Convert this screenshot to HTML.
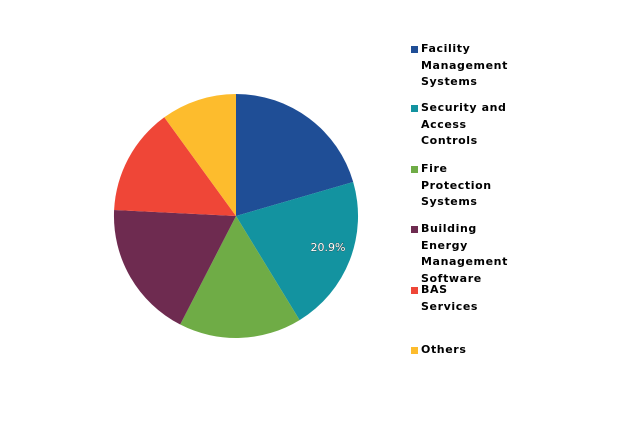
<!DOCTYPE html>
<html><head><style>
body{margin:0;background:#fff;width:622px;height:439px;overflow:hidden;position:relative;font-family:"DejaVu Sans","Liberation Sans",sans-serif}
.l{position:absolute;left:421px;font-size:11px;font-weight:bold;line-height:16.5px;color:#000;letter-spacing:0.6px}
.s{position:absolute;left:411px;width:7px;height:7px}
</style></head><body>
<svg width="622" height="439" style="position:absolute;left:0;top:0">
<g>
<path d="M236,216 L236,94 A122,122 0 0 1 353.2,182 Z" fill="#1f4e96"/>
<path d="M236,216 L353.2,182 A122,122 0 0 1 299.6,320.1 Z" fill="#1393a0"/>
<path d="M236,216 L299.6,320.1 A122,122 0 0 1 180.2,324.5 Z" fill="#6fac46"/>
<path d="M236,216 L180.2,324.5 A122,122 0 0 1 114.1,210 Z" fill="#6e2b50"/>
<path d="M236,216 L114.1,210 A122,122 0 0 1 164.3,117.3 Z" fill="#ef4637"/>
<path d="M236,216 L164.3,117.3 A122,122 0 0 1 236,94 Z" fill="#fdbc2d"/>
</g>
<text x="328" y="251" text-anchor="middle" font-family="DejaVu Sans, sans-serif" font-size="11" fill="#fff" stroke="#333" stroke-width="0.6" paint-order="stroke">20.9%</text>
</svg>
<div class="s" style="top:46px;background:#1f4e96"></div>
<div class="l" style="top:41px">Facility<br>Management<br>Systems</div>
<div class="s" style="top:105px;background:#1393a0"></div>
<div class="l" style="top:100px">Security and<br>Access<br>Controls</div>
<div class="s" style="top:166px;background:#6fac46"></div>
<div class="l" style="top:161px">Fire<br>Protection<br>Systems</div>
<div class="s" style="top:226px;background:#6e2b50"></div>
<div class="l" style="top:221px">Building<br>Energy<br>Management<br>Software</div>
<div class="s" style="top:287px;background:#ef4637"></div>
<div class="l" style="top:282px">BAS<br>Services</div>
<div class="s" style="top:347px;background:#fdbc2d"></div>
<div class="l" style="top:342px">Others</div>
</body></html>
